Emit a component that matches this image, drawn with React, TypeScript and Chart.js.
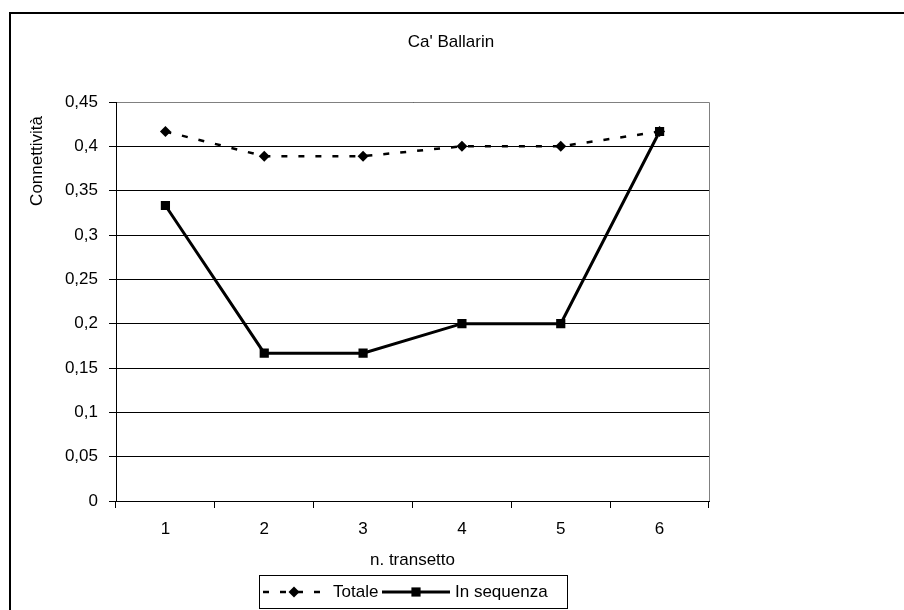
import React, { useEffect, useRef } from "react";
import { Chart, registerables } from "chart.js";

Chart.register(...registerables);

const CATEGORIES = ["1", "2", "3", "4", "5", "6"];
const TOTALE = [0.4167, 0.3889, 0.3889, 0.4, 0.4, 0.4167];
const IN_SEQUENZA = [0.3333, 0.1667, 0.1667, 0.2, 0.2, 0.4167];
const Y_TICK_LABELS = ["0", "0,05", "0,1", "0,15", "0,2", "0,25", "0,3", "0,35", "0,4", "0,45"];
const SERIES_LABELS = ["Totale", "In sequenza"];
const TITLE = "Ca' Ballarin";
const X_TITLE = "n. transetto";
const Y_TITLE = "Connettività";

const FONT = "'Liberation Sans', Arial, sans-serif";
const FS = 17;

function drawMarker(ctx: CanvasRenderingContext2D, style: string, x: number, y: number, r: number) {
  ctx.beginPath();
  if (style === "rectRot") {
    ctx.moveTo(x, y - r);
    ctx.lineTo(x + r, y);
    ctx.lineTo(x, y + r);
    ctx.lineTo(x - r, y);
    ctx.closePath();
  } else {
    const s = r * Math.SQRT1_2;
    ctx.rect(x - s, y - s, 2 * s, 2 * s);
  }
  ctx.fill();
}

const decorPlugin = {
  id: "decor",
  beforeDraw(chart: any) {
    const ctx = chart.ctx as CanvasRenderingContext2D;
    ctx.save();
    ctx.fillStyle = "#fff";
    ctx.fillRect(0, 0, chart.width, chart.height);
    ctx.restore();
  },
  afterDraw(chart: any) {
    const ctx = chart.ctx as CanvasRenderingContext2D;
    const { left, right, top, bottom } = chart.chartArea;
    ctx.save();
    // outer frame
    ctx.strokeStyle = "#000";
    ctx.lineWidth = 2;
    ctx.beginPath();
    ctx.moveTo(10, chart.height + 2);
    ctx.lineTo(10, 13);
    ctx.lineTo(chart.width + 2, 13);
    ctx.stroke();

    // plot area border (grey top & right)
    ctx.strokeStyle = "#808080";
    ctx.lineWidth = 1;
    ctx.beginPath();
    ctx.moveTo(left + 1, top + 0.5);
    ctx.lineTo(right + 0.5, top + 0.5);
    ctx.lineTo(right + 0.5, bottom);
    ctx.stroke();

    // title
    ctx.fillStyle = "#000";
    ctx.font = `${FS}px ${FONT}`;
    ctx.textAlign = "center";
    ctx.textBaseline = "middle";
    ctx.fillText(TITLE, 451, 42);

    // y title
    ctx.save();
    ctx.translate(37, 161);
    ctx.rotate(-Math.PI / 2);
    ctx.fillText(Y_TITLE, 0, 0);
    ctx.restore();

    // legend
    const bx = 259, by = 575, bw = 308, bh = 33;
    ctx.strokeStyle = "#000";
    ctx.lineWidth = 1;
    ctx.strokeRect(bx + 0.5, by + 0.5, bw, bh);
    const cy = by + bh / 2 + 0.5;
    const items = [
      { x0: 263, x1: 325, tx: 333 },
      { x0: 382, x1: 450, tx: 455 },
    ];
    chart.data.datasets.forEach((ds: any, i: number) => {
      const it = items[i];
      ctx.save();
      ctx.strokeStyle = ds.borderColor;
      ctx.lineWidth = ds.borderWidth;
      ctx.setLineDash(ds.borderDash || []);
      ctx.lineDashOffset = 0;
      ctx.beginPath();
      ctx.moveTo(it.x0, cy);
      ctx.lineTo(it.x1, cy);
      ctx.stroke();
      ctx.setLineDash([]);
      ctx.fillStyle = ds.pointBackgroundColor;
      drawMarker(ctx, ds.pointStyle, (it.x0 + it.x1) / 2, cy, ds.pointRadius);
      ctx.restore();
      ctx.fillStyle = "#000";
      ctx.textAlign = "left";
      ctx.textBaseline = "middle";
      ctx.font = `${FS}px ${FONT}`;
      ctx.fillText(ds.label, it.tx, cy);
    });
    ctx.restore();
  },
};

export default function App() {
  const ref = useRef<HTMLCanvasElement | null>(null);
  useEffect(() => {
    if (!ref.current) return;
    const chart = new Chart(ref.current, {
      type: "line",
      data: {
        labels: CATEGORIES,
        datasets: [
          {
            label: SERIES_LABELS[0],
            data: TOTALE,
            borderColor: "#000",
            backgroundColor: "#000",
            borderWidth: 2.5,
            borderDash: [6, 11],
            pointStyle: "rectRot",
            pointRadius: 5.5,
            pointBackgroundColor: "#000",
            pointBorderColor: "#000",
            pointBorderWidth: 0,
            tension: 0,
          },
          {
            label: SERIES_LABELS[1],
            data: IN_SEQUENZA,
            borderColor: "#000",
            backgroundColor: "#000",
            borderWidth: 3,
            pointStyle: "rect",
            pointRadius: 6.5,
            pointBackgroundColor: "#000",
            pointBorderColor: "#000",
            pointBorderWidth: 0,
            tension: 0,
          },
        ],
      },
      options: {
        animation: false,
        responsive: false,
        devicePixelRatio: 1,
        layout: { padding: { top: 102, left: 0, right: 195, bottom: 0 } },
        plugins: {
          legend: { display: false },
          title: { display: false },
          tooltip: { enabled: false },
        },
        scales: {
          x: {
            type: "category",
            offset: true,
            afterFit: (s: any) => {
              s.height = 109;
            },
            grid: {
              offset: true,
              drawOnChartArea: false,
              drawTicks: true,
              tickLength: 7,
              color: "#000",
            },
            border: { color: "#000", width: 1 },
            ticks: {
              color: "#000",
              padding: 11,
              font: { family: FONT, size: FS },
              maxRotation: 0,
            },
            title: {
              display: true,
              text: X_TITLE,
              color: "#000",
              font: { family: FONT, size: FS },
              padding: { top: 0, bottom: 39 },
            },
          },
          y: {
            min: 0,
            max: 0.45,
            afterFit: (s: any) => {
              s.width = 116;
            },
            grid: {
              color: "#000",
              tickLength: 7,
              drawTicks: true,
            },
            border: { color: "#000", width: 1 },
            ticks: {
              stepSize: 0.05,
              color: "#000",
              padding: 11,
              font: { family: FONT, size: FS },
              callback: (_v: any, i: number) => Y_TICK_LABELS[i],
            },
          },
        },
      },
      plugins: [decorPlugin],
    });
    return () => chart.destroy();
  }, []);
  return (
    <div style={{ position: "absolute", left: 0, top: 0, width: 904, height: 610 }}>
      <canvas ref={ref} width={904} height={610} style={{ display: "block" }} />
    </div>
  );
}
